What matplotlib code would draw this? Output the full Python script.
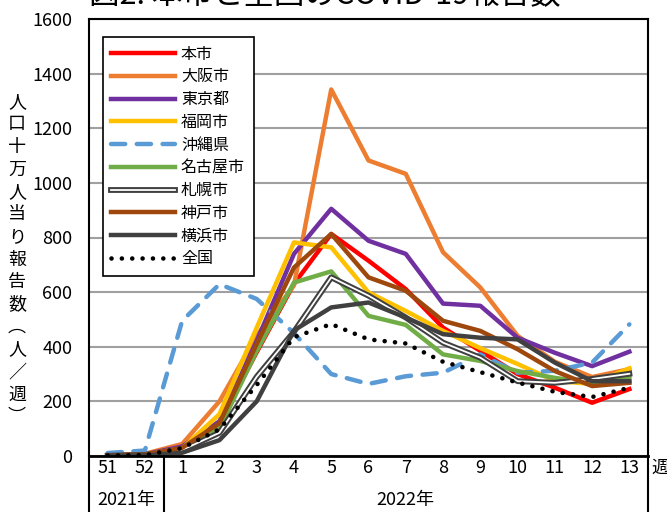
import matplotlib
matplotlib.use("Agg")
import matplotlib.pyplot as plt
import matplotlib.patheffects as pe
import numpy as np

plt.rcParams['font.family'] = ['Noto Sans CJK JP', 'DejaVu Sans']

weeks = ['51', '52', '1', '2', '3', '4', '5', '6', '7', '8', '9', '10', '11', '12', '13']

# 人口十万人当りの週別報告数
honshi   = [2, 5, 30, 120, 380, 630, 813, 715, 611, 470, 385, 300, 250, 195, 245]
osaka    = [3, 8, 44, 200, 440, 625, 1342, 1082, 1033, 746, 617, 440, 345, 289, 318]
tokyo    = [2, 6, 35, 127, 421, 740, 905, 788, 740, 558, 550, 433, 378, 329, 382]
fukuoka  = [2, 5, 28, 153, 470, 782, 764, 599, 531, 458, 395, 337, 275, 264, 321]
okinawa  = [11, 20, 495, 629, 575, 450, 300, 264, 292, 305, 372, 305, 312, 342, 482]
nagoya   = [1, 4, 25, 100, 385, 635, 676, 513, 480, 372, 348, 311, 286, 268, 290]
sapporo  = [1, 4, 22, 85, 290, 455, 654, 587, 507, 415, 360, 274, 268, 282, 301]
kobe     = [2, 5, 30, 120, 410, 690, 813, 654, 605, 495, 458, 391, 311, 256, 268]
yokohama = [1, 2, 12, 58, 200, 460, 544, 562, 507, 446, 433, 427, 342, 274, 274]
zenkoku  = [2, 3, 29, 98, 260, 435, 483, 427, 412, 345, 307, 269, 235, 216, 250]

yticks = np.arange(0, 1601, 200)

fig = plt.figure(figsize=(6.67, 5.12), dpi=100)
ax = fig.add_axes([89/667, 1-456/512, 559/667, 437/512])

x = np.arange(len(weeks))
lw = 3.2
ax.plot(x, honshi, color='#FF0000', lw=lw, label='本市')
ax.plot(x, osaka, color='#ED7D31', lw=lw, label='大阪市')
ax.plot(x, tokyo, color='#7030A0', lw=lw, label='東京都')
ax.plot(x, fukuoka, color='#FFC000', lw=lw, label='福岡市')
ax.plot(x, okinawa, color='#5B9BD5', lw=lw, label='沖縄県',
        linestyle=(0, (3.2, 2.6)), dash_capstyle='round')
ax.plot(x, nagoya, color='#70AD47', lw=lw, label='名古屋市')
ax.plot(x, sapporo, color='white', lw=1.3, label='札幌市',
        path_effects=[pe.withStroke(linewidth=4.2, foreground='#404040')])
ax.plot(x, kobe, color='#9E480E', lw=lw, label='神戸市')
ax.plot(x, yokohama, color='#404040', lw=lw, label='横浜市')
ax.plot(x, zenkoku, color='black', lw=3.3, label='全国',
        linestyle=(0, (0.01, 2.25)), dash_capstyle='round')

ax.set_xlim(-0.5, 14.5)
ax.set_ylim(0, 1600)
ax.set_yticks(yticks)
ax.set_xticks(x)
ax.set_xticklabels(weeks)
ax.tick_params(axis='both', length=0, labelsize=13)
ax.tick_params(axis='y', pad=12)
ax.tick_params(axis='x', pad=2)
ax.yaxis.grid(True, color='#a0a0a0', lw=1.5)
ax.set_axisbelow(True)
for s in ax.spines.values():
    s.set_color('black')
    s.set_linewidth(1.5)
ax.spines['bottom'].set_linewidth(2)

# 年の区切り線
for xv in [-0.5, 1.5, 14.5]:
    ax.plot([xv, xv], [0, -0.14], transform=ax.get_xaxis_transform(),
            color='black', lw=1.5, clip_on=False)
ax.text(0.5, -0.101, '2021年', transform=ax.get_xaxis_transform(),
        ha='center', va='center', fontsize=13)
ax.text(8, -0.101, '2022年', transform=ax.get_xaxis_transform(),
        ha='center', va='center', fontsize=13)
fig.text(651/667, 1-468/512, '週', ha='left', va='center', fontsize=13)

leg = ax.legend(loc='upper left', bbox_to_anchor=(0.0245, 0.959), borderaxespad=0,
                fontsize=11.5, handlelength=4.0, handletextpad=0.35,
                labelspacing=0.36, borderpad=0.55, fancybox=False,
                edgecolor='black', framealpha=1)
leg.get_frame().set_linewidth(1.2)

# 縦書きのY軸ラベル
ylabel = ['人', '口', '十', '万', '人', '当', 'り', '報', '告', '数',
          '︵', '人', '／', '週', '︶']
for i, ch in enumerate(ylabel):
    fig.text(17/667, 1-(102+22.5*i)/512, ch, ha='center', va='center', fontsize=13)

fig.text(325/667, 1-4/512, '図2. 本市と全国のCOVID-19報告数',
         ha='center', va='baseline', fontsize=22)

fig.savefig('out.png', dpi=100)
